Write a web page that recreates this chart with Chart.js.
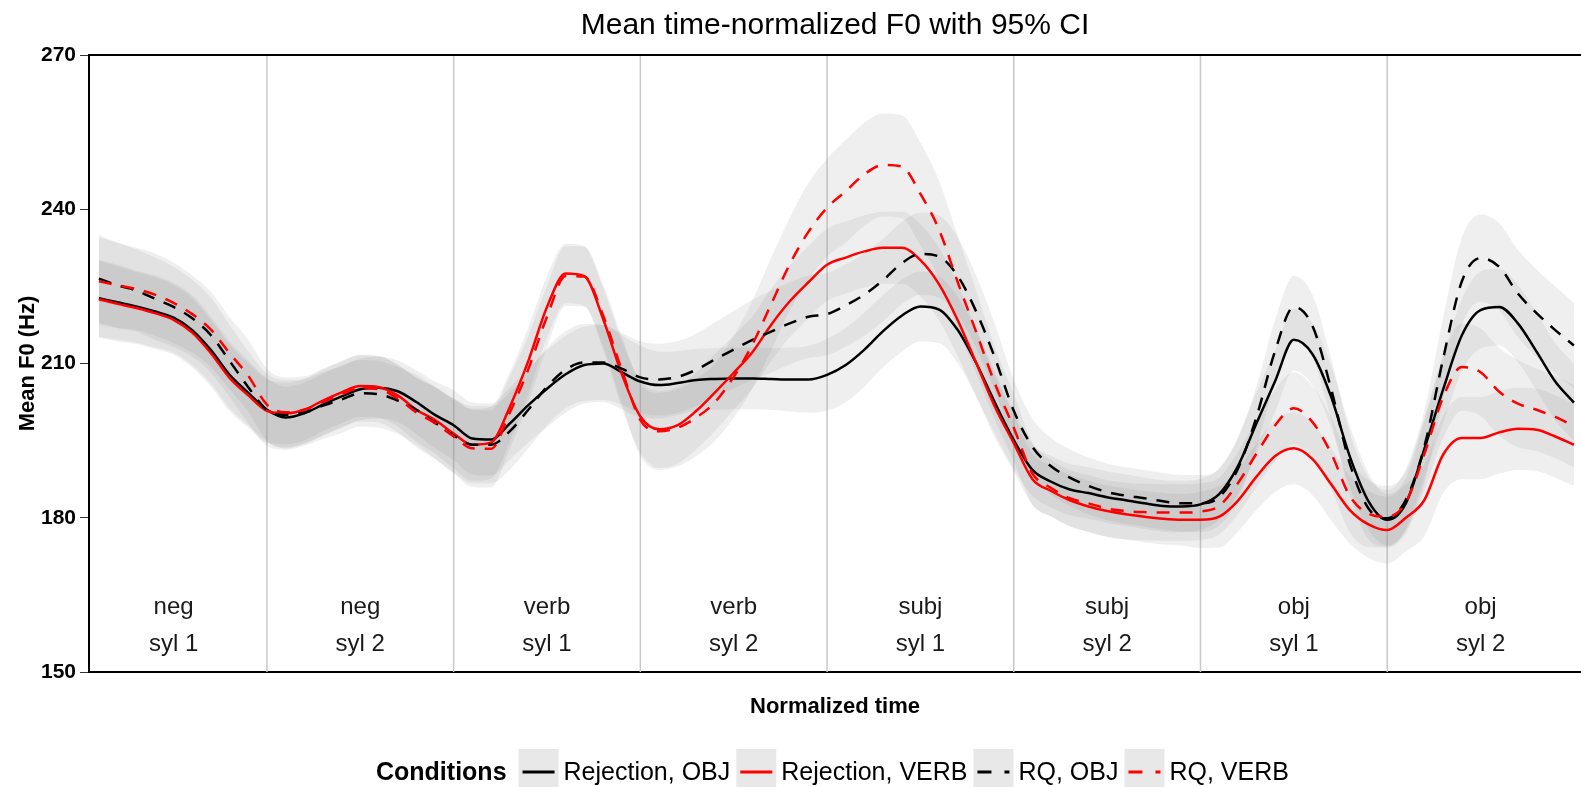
<!DOCTYPE html>
<html>
<head>
<meta charset="utf-8">
<title>Mean time-normalized F0</title>
<script src="https://cdn.jsdelivr.net/npm/chart.js@4.4.1/dist/chart.umd.min.js"></script>
<style>
  html, body { margin: 0; padding: 0; background: #fff; }
  #wrap { width: 1581px; height: 787px; }
</style>
</head>
<body>
<div id="wrap"><canvas id="f0Chart" width="1581" height="787"></canvas></div>
<script>
// normalized time points (10 per syllable)
const times = [
  0.1,0.2,0.3,0.4,0.5,0.6,0.7,0.8,0.9,1.0,
  1.1,1.2,1.3,1.4,1.5,1.6,1.7,1.8,1.9,2.0,
  2.1,2.2,2.3,2.4,2.5,2.6,2.7,2.8,2.9,3.0,
  3.1,3.2,3.3,3.4,3.5,3.6,3.7,3.8,3.9,4.0,
  4.1,4.2,4.3,4.4,4.5,4.6,4.7,4.8,4.9,5.0,
  5.1,5.2,5.3,5.4,5.5,5.6,5.7,5.8,5.9,6.0,
  6.1,6.2,6.3,6.4,6.5,6.6,6.7,6.8,6.9,7.0,
  7.1,7.2,7.3,7.4,7.5,7.6,7.7,7.8,7.9,8.0
];

// mean F0 (Hz)
const rejObj = [
  222.7,221.9,221.1,220.1,218.9,216.5,212.6,207.8,204.3,201.0,
  199.5,200.3,202.0,203.6,205.0,205.3,204.6,202.5,200.0,198.0,
  195.4,195.2,198.3,201.9,205.1,207.9,209.7,210.0,208.3,206.5,
  205.8,206.2,206.8,207.0,207.1,207.1,207.0,206.9,206.9,207.8,
  209.7,212.7,216.3,219.3,221.1,220.5,216.5,210.0,202.3,195.1,
  189.3,187.0,185.5,184.8,184.0,183.4,182.8,182.3,182.2,182.6,
  184.6,190.0,198.4,206.6,214.6,211.8,203.5,191.9,183.2,179.6,
  182.8,193.5,205.0,215.5,220.4,221.0,217.8,212.3,206.5,202.4
];
const rejVerb = [
  222.5,221.6,220.8,219.8,218.5,216.0,212.0,207.2,203.8,200.8,
  200.3,201.0,202.8,204.4,205.6,205.4,203.8,201.0,199.0,196.4,
  194.2,194.6,201.5,210.5,221.0,227.5,227.0,218.7,208.0,199.7,
  197.2,198.0,200.8,204.4,208.2,212.2,217.5,222.1,225.8,229.2,
  230.6,231.8,232.5,232.5,230.1,225.4,218.4,210.0,201.5,194.5,
  187.5,185.2,183.4,182.2,181.3,180.7,180.2,179.8,179.6,179.6,
  180.2,183.3,188.0,192.0,193.5,191.4,186.5,181.5,178.7,177.6,
  180.0,183.5,192.3,195.5,195.5,196.6,197.3,197.1,195.8,194.2
];
const rqObj = [
  226.5,225.2,224.2,222.6,221.0,218.8,215.5,210.5,205.4,201.0,
  200.0,200.5,201.8,203.0,204.2,204.0,202.8,201.0,198.5,196.0,
  194.2,194.2,196.8,201.0,205.5,208.8,210.2,210.2,209.0,207.3,
  206.9,207.4,208.8,210.8,212.7,214.6,216.2,217.8,219.1,219.6,
  221.3,223.4,226.2,229.5,231.3,230.8,227.0,220.0,211.0,200.8,
  193.8,190.0,187.8,186.2,185.0,184.3,183.8,183.2,182.8,182.8,
  184.0,189.5,199.6,212.5,221.0,217.3,205.0,190.5,181.8,179.9,
  183.5,194.0,211.0,226.0,230.5,228.8,223.6,219.8,216.5,213.5
];
const rqVerb = [
  226.0,225.2,224.5,223.4,221.8,219.6,216.6,212.0,207.6,202.0,
  200.5,201.0,202.5,204.0,205.2,205.0,203.2,200.5,198.4,195.8,
  193.5,193.4,200.4,208.9,219.1,227.0,226.9,219.4,208.8,199.0,
  196.8,197.5,199.5,202.5,207.4,213.7,221.5,229.3,235.6,240.3,
  243.5,246.8,248.6,248.3,243.0,236.0,225.8,216.0,206.0,197.5,
  188.6,185.8,183.8,182.8,181.8,181.3,181.1,181.0,181.0,181.2,
  182.3,186.7,192.5,198.0,201.3,198.6,192.5,184.2,180.8,180.2,
  183.0,192.5,203.5,209.3,208.3,204.5,202.2,201.0,199.6,197.8
];

// 95% CI half widths (Hz)
const ciRejObj = [
  7.5,7.3,7,7,6.8,6.8,6.5,6.5,6.3,6.2,
  6,6,6,6,6,6,6,6.2,6.5,6.8,
  7,7,7,7.2,7.5,7.5,7.5,7.5,7.2,7,
  6.5,6.2,6,6,6,6,6,6.2,6.5,7,
  7.2,7.2,7,7,6.8,6.5,6.5,6.5,6,5.5,
  5,5,5,5,5,5,5,5,5,5,
  5,5.5,6,6,6,6,6,6,5.5,5,
  5,5.5,6.5,7,7.5,7.5,7.5,7.5,7.5,7.5
];
const ciRejVerb = [
  7.5,7.3,7,7,6.8,6.8,6.5,6.5,6.3,6.2,
  6,6,6,6,6,6,6,6.2,6.5,6.8,
  7,7,6.8,6.5,6,5.8,5.8,6,6.5,7,
  7.5,7.5,7.5,7.5,7.2,7,7,7,7,7,
  7,7,7,7,7,7,7,6.5,6,5.5,
  5,5,5,5,5,5,5,5,5,5.5,
  6,6,6.5,7,7,7,7,6.5,6.5,6.5,
  6.5,7,7.5,8,8,8,8,8,8,8
];
const ciRqObj = [
  8.5,8.3,8,8,7.8,7.5,7.3,7,7,7,
  6.8,6.5,6.5,6.5,6.5,6.5,6.5,6.8,7,7.2,
  7.5,7.5,7.5,7.5,7.5,7.5,7.5,7.3,7,7,
  7,7,7,7.2,7.5,7.8,8,8,8,8,
  8,8,8,8,8,8,7.5,7,6.5,6,
  5.5,5.5,5.5,5.5,5.5,5.5,5.5,5.5,5.5,5.5,
  5.5,6,6,6,6,6,6,6,6,5.5,
  6,7,8,8.5,8.5,8.5,8.5,8.5,8.5,8.3
];
const ciRqVerb = [
  8.5,8.3,8,8,7.8,7.5,7.3,7,7,7,
  6.8,6.5,6.5,6.5,6.5,6.5,6.5,6.8,7,7.2,
  7.5,7.5,7,6.5,6,5.8,5.8,6,6.5,7,
  7.5,7.5,7.5,7.5,8,8.5,9,9,9.5,9.5,
  10,10,10,10,10,9.5,9,8,7,6.5,
  6,5.5,5.5,5.5,5.5,5.5,5.5,5.5,5.5,5.5,
  5.5,6,6.5,7,7,7,7,7,6.5,6,
  6,7,8,8.5,8.5,8.5,8.5,8,8,8
];

// syllable boundaries and annotations
const segmentEdges = [1, 2, 3, 4, 5, 6, 7];
const segmentWords = ['neg', 'neg', 'verb', 'verb', 'subj', 'subj', 'obj', 'obj'];
const segmentSyls = ['syl 1', 'syl 2', 'syl 1', 'syl 2', 'syl 1', 'syl 2', 'syl 1', 'syl 2'];
const yTicks = [150, 180, 210, 240, 270];

const FONT = "'Liberation Sans', Arial, sans-serif";
const ribbonFill = 'rgba(140, 140, 140, 0.14)';

const series = [
  { label: 'Rejection, OBJ', values: rejObj, ci: ciRejObj, color: '#000000', dash: [] },
  { label: 'Rejection, VERB', values: rejVerb, ci: ciRejVerb, color: '#ff0000', dash: [] },
  { label: 'RQ, OBJ', values: rqObj, ci: ciRqObj, color: '#000000', dash: [13, 10] },
  { label: 'RQ, VERB', values: rqVerb, ci: ciRqVerb, color: '#ff0000', dash: [13, 10] }
];

const datasets = [];
// ribbons: upper edge, then lower edge filled to it
series.forEach((s, k) => {
  datasets.push({
    label: s.label + ' upper',
    data: times.map((t, i) => ({ x: t, y: s.values[i] + s.ci[i] })),
    borderWidth: 0, borderColor: 'rgba(0,0,0,0)', pointRadius: 0, fill: false,
    cubicInterpolationMode: 'monotone', order: 10 + k
  });
  datasets.push({
    label: s.label + ' lower',
    data: times.map((t, i) => ({ x: t, y: s.values[i] - s.ci[i] })),
    borderWidth: 0, borderColor: 'rgba(0,0,0,0)', pointRadius: 0,
    fill: '-1', backgroundColor: ribbonFill,
    cubicInterpolationMode: 'monotone', order: 10 + k
  });
});
// mean lines on top
series.forEach((s, k) => {
  datasets.push({
    label: s.label,
    data: times.map((t, i) => ({ x: t, y: s.values[i] })),
    borderColor: s.color, borderWidth: 2.5, borderDash: s.dash,
    pointRadius: 0, fill: false, cubicInterpolationMode: 'monotone', order: 3 - k
  });
});

const decor = {
  id: 'decor',
  beforeDatasetsDraw(chart) {
    const { ctx, chartArea, scales } = chart;
    ctx.save();
    ctx.strokeStyle = '#c8c8c8';
    ctx.lineWidth = 1.5;
    segmentEdges.forEach(e => {
      const x = scales.x.getPixelForValue(e);
      ctx.beginPath();
      ctx.moveTo(x, chartArea.top);
      ctx.lineTo(x, chartArea.bottom);
      ctx.stroke();
    });
    ctx.restore();
  },
  afterDraw(chart) {
    const { ctx, chartArea, scales } = chart;
    const cx = (chartArea.left + chartArea.right) / 2;
    ctx.save();

    // top frame line
    ctx.strokeStyle = '#000';
    ctx.lineWidth = 2;
    ctx.beginPath();
    ctx.moveTo(chartArea.left - 1, chartArea.top);
    ctx.lineTo(chartArea.right, chartArea.top);
    ctx.stroke();

    // title
    ctx.fillStyle = '#000';
    ctx.textAlign = 'center';
    ctx.textBaseline = 'alphabetic';
    ctx.font = '30px ' + FONT;
    ctx.fillText('Mean time-normalized F0 with 95% CI', cx, 34);

    // axis titles
    ctx.font = 'bold 22px ' + FONT;
    ctx.textBaseline = 'middle';
    ctx.fillText('Normalized time', cx, 707);
    ctx.save();
    ctx.translate(28, (chartArea.top + chartArea.bottom) / 2);
    ctx.rotate(-Math.PI / 2);
    ctx.fillText('Mean F0 (Hz)', 0, 0);
    ctx.restore();

    // syllable annotations
    ctx.font = '24px ' + FONT;
    ctx.fillStyle = '#1a1a1a';
    segmentWords.forEach((w, i) => {
      const x = scales.x.getPixelForValue(i + 0.5);
      ctx.fillText(w, x, scales.y.getPixelForValue(162.6));
      ctx.fillText(segmentSyls[i], x, scales.y.getPixelForValue(155.4));
    });

    // legend
    const ly = 773;
    let x = 376;
    ctx.textAlign = 'left';
    ctx.fillStyle = '#000';
    ctx.font = 'bold 25px ' + FONT;
    ctx.fillText('Conditions', x, ly);
    x += ctx.measureText('Conditions').width + 12;
    ctx.font = '25px ' + FONT;
    series.forEach(s => {
      ctx.fillStyle = '#e8e8e8';
      ctx.fillRect(x, 749, 40, 40);
      ctx.strokeStyle = s.color;
      ctx.lineWidth = 3;
      ctx.setLineDash(s.dash.length ? [14, 13] : []);
      ctx.beginPath();
      ctx.moveTo(x + 4, ly - 1);
      ctx.lineTo(x + 36, ly - 1);
      ctx.stroke();
      ctx.setLineDash([]);
      x += 45;
      ctx.fillStyle = '#000';
      ctx.fillText(s.label, x, ly);
      x += ctx.measureText(s.label).width + 6;
    });
    ctx.restore();
  }
};

new Chart(document.getElementById('f0Chart'), {
  type: 'line',
  data: { datasets },
  options: {
    responsive: false,
    animation: false,
    devicePixelRatio: 1,
    layout: { padding: { top: 55, left: 0, right: 0, bottom: 0 } },
    plugins: {
      legend: { display: false },
      title: { display: false },
      tooltip: { enabled: false },
      filler: { propagate: false }
    },
    scales: {
      x: {
        type: 'linear',
        min: 0.047,
        max: 8.038,
        grid: { display: false },
        border: { display: true, color: '#000', width: 2 },
        ticks: { display: false },
        afterFit: s => { s.height = 115; }
      },
      y: {
        type: 'linear',
        min: 150,
        max: 270,
        afterBuildTicks: s => { s.ticks = yTicks.map(v => ({ value: v })); },
        grid: { drawOnChartArea: false, drawTicks: true, tickLength: 9, color: '#333' },
        border: { display: true, color: '#000', width: 2 },
        ticks: { color: '#000', padding: 4, font: { family: FONT, size: 21, weight: 'bold' } },
        afterFit: s => { s.width = 89; }
      }
    }
  },
  plugins: [decor]
});
</script>
</body>
</html>
